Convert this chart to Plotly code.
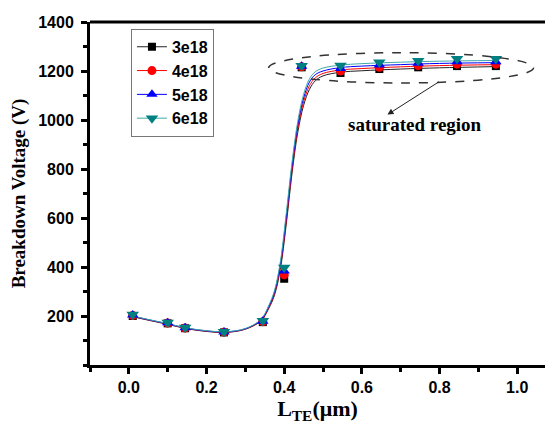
import plotly.graph_objects as go

# Measured breakdown voltage vs. L_TE for four doping levels
lte = [0.01, 0.1, 0.145, 0.245, 0.345, 0.4, 0.445, 0.545, 0.645, 0.745, 0.845, 0.945]
bv_3e18 = [200, 170, 150, 133, 175, 352, 1215, 1192, 1208, 1215, 1220, 1220]
bv_4e18 = [202, 171, 151, 134, 177, 368, 1217, 1200, 1215, 1222, 1228, 1228]
bv_5e18 = [204, 172, 152, 135, 179, 384, 1219, 1210, 1225, 1232, 1238, 1238]
bv_6e18 = [206, 173, 153, 136, 181, 398, 1221, 1222, 1236, 1242, 1250, 1250]

# Smoothed fit curves for each doping level
fit_x = [0.005, 0.05, 0.1, 0.15, 0.2, 0.25, 0.3, 0.34, 0.36, 0.375, 0.39, 0.405,
         0.42, 0.435, 0.45, 0.465, 0.48, 0.5, 0.545, 0.6, 0.7, 0.8, 0.945]
fit_3e18 = [199, 183, 166, 148, 137, 133, 146, 180, 230, 285, 390, 570,
            780, 950, 1060, 1125, 1160, 1180, 1195, 1201, 1208, 1213, 1218]
fit_4e18 = [200, 184, 167, 149, 138, 134, 147, 182, 234, 292, 400, 585,
            795, 965, 1075, 1140, 1172, 1190, 1204, 1210, 1217, 1222, 1226]
fit_5e18 = [201, 185, 168, 150, 139, 135, 148, 184, 238, 298, 410, 600,
            810, 980, 1090, 1155, 1185, 1200, 1214, 1220, 1226, 1231, 1234]
fit_6e18 = [202, 186, 169, 151, 140, 136, 149, 186, 242, 304, 420, 615,
            825, 995, 1105, 1168, 1197, 1212, 1224, 1230, 1236, 1240, 1243]

series = [
    ("3e18", bv_3e18, fit_3e18, "#000000", "#222222", "square", 8),
    ("4e18", bv_4e18, fit_4e18, "#ff0000", "#ff0000", "circle", 9),
    ("5e18", bv_5e18, fit_5e18, "#0000ff", "#0000ff", "triangle-up", 10),
    ("6e18", bv_6e18, fit_6e18, "#008080", "#40a8a8", "triangle-down", 11),
]

fig = go.Figure()

for name, pts, fit, mcol, lcol, sym, size in series:
    fig.add_trace(go.Scatter(
        x=fit_x, y=fit, mode="lines",
        line=dict(color=lcol, width=1, shape="spline", smoothing=1.0),
        showlegend=False, hoverinfo="skip"))

for name, pts, fit, mcol, lcol, sym, size in series:
    fig.add_trace(go.Scatter(
        x=lte, y=pts, mode="markers", name=name,
        marker=dict(symbol=sym, size=size, color=mcol, line=dict(width=0)),
        showlegend=False))
    # legend entry with line + symbol
    fig.add_trace(go.Scatter(
        x=[None], y=[None], mode="lines+markers", name=name,
        line=dict(color=lcol, width=1),
        marker=dict(symbol=sym, size=size, color=mcol, line=dict(width=0))))

axis_font = dict(family="Liberation Sans, Arial", size=16, color="black")

fig.update_layout(
    width=545, height=425,
    margin=dict(l=90, r=0, t=22, b=60),
    paper_bgcolor="white", plot_bgcolor="white",
    showlegend=True,
    legend=dict(
        x=0.09, y=0.98, xanchor="left", yanchor="top",
        bordercolor="#777777", borderwidth=1, bgcolor="white",
        font=dict(family="Liberation Sans, Arial", size=16, color="black",
                  weight="bold"),
        tracegroupgap=0, itemsizing="trace",
    ),
    xaxis=dict(
        range=[-0.1, 1.0715], showgrid=False, zeroline=False,
        showline=True, linecolor="black", linewidth=3,
        ticks="outside", ticklen=6, tickwidth=2.5, tickcolor="black",
        tickvals=[0.0, 0.2, 0.4, 0.6, 0.8, 1.0], tickformat=".1f",
        tickfont=dict(axis_font, weight="bold"),
        minor=dict(dtick=0.1, tick0=0, ticks="outside", ticklen=4,
                   tickwidth=2.5, tickcolor="black"),
        title=dict(text="L<sub>TE</sub>(μm)",
                   font=dict(family="Liberation Serif, Times New Roman",
                             size=22, color="black", weight="bold"),
                   standoff=4),
    ),
    yaxis=dict(
        range=[0, 1400], showgrid=False, zeroline=False,
        showline=True, linecolor="black", linewidth=3,
        ticks="outside", ticklen=6, tickwidth=2.5, tickcolor="black",
        tickvals=[200, 400, 600, 800, 1000, 1200, 1400],
        tickfont=dict(axis_font, weight="bold"),
        ticklabelstandoff=4,
        minor=dict(dtick=100, tick0=0, ticks="outside", ticklen=4,
                   tickwidth=2.5, tickcolor="black"),
        title=dict(text="Breakdown Voltage (V)",
                   font=dict(family="Liberation Serif, Times New Roman",
                             size=19, color="black", weight="bold"),
                   standoff=8),
    ),
)

# top frame line
fig.add_shape(type="line", xref="paper", yref="paper", x0=0, x1=1, y0=1, y1=1,
              line=dict(color="black", width=3))

# dashed ellipse around the saturated region
fig.add_shape(type="circle", xref="x", yref="y",
              x0=0.36, x1=1.042, y0=1151, y1=1275,
              line=dict(color="#333333", width=1.5, dash="dash"))

# arrow pointing to the label
fig.add_annotation(x=0.666, y=1022, ax=0.8025, ay=1160, axref="x", ayref="y",
                   xref="x", yref="y", text="", showarrow=True,
                   arrowhead=2, arrowsize=1.2, arrowwidth=1, arrowcolor="#222222")
fig.add_annotation(x=0.737, y=980, xref="x", yref="y",
                   text="saturated region", showarrow=False,
                   font=dict(family="Liberation Serif, Times New Roman", size=19,
                             color="black", weight="bold"))

fig.write_html("out.html")
